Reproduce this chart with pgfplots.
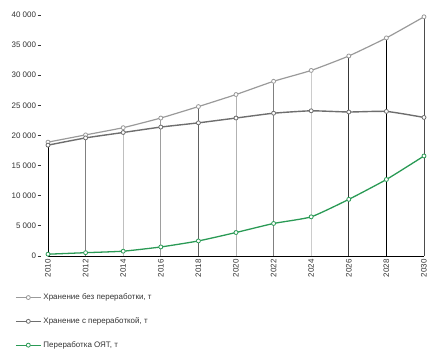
\documentclass[border=0pt]{standalone}
\usepackage{pgfplots}
\pgfplotsset{compat=1.18}
\usepackage{fontspec}
\setmainfont{Liberation Sans}
\definecolor{upc}{HTML}{9A9A9A}
\definecolor{loc}{HTML}{6E6E6E}
\definecolor{grc}{HTML}{2A9A55}
\definecolor{txt}{HTML}{333333}
\begin{document}
\begin{tikzpicture}
\begin{axis}[
  at={(0,0)}, anchor=south west,
  scale only axis, width=376bp, height=241bp,
  xmin=2010, xmax=2030, ymin=0, ymax=40000,
  axis x line*=bottom, axis y line*=left,
  y axis line style={draw=none},
  x axis line style={black, line width=0.9pt},
  major tick length=0pt,
  xtick={2010,2012,...,2030},
  ytick={0,5000,...,40000},
  scaled y ticks=false,
  font=\fontsize{8}{9.6}\selectfont,
  tick label style={text=txt},
  /pgf/number format/assume math mode=true,
  /pgf/number format/1000 sep={\ },
  x tick label style={/pgf/number format/1000 sep={}, rotate=90, anchor=east, xshift=0pt},
  yticklabel={\pgfmathprintnumber{\tick}\hspace{1.5pt}\rule[2.6pt]{4pt}{0.6pt}},
  y tick label style={xshift=-3pt},
  clip=false,
  legend cell align=left,
  legend style={draw=none, fill=none, inner sep=0pt, anchor=north west,
    at={(-0.088,-0.148)}, row sep=12.5pt, font=\fontsize{8}{9.6}\selectfont, text=txt},
  legend image code/.code={\draw[mark repeat=2,mark phase=2,#1] plot coordinates {(0bp,0bp)(12.5bp,0bp)(25bp,0bp)};},
]
% drop lines
\addplot[forget plot, black, line width=0.7pt] coordinates {(2010,0)(2010,18900)};
\addplot[forget plot, color=black!50, line width=0.7pt] coordinates {(2012,0)(2012,20100)};
\addplot[forget plot, color=black!25, line width=0.7pt] coordinates {(2014,0)(2014,21300)};
\addplot[forget plot, color=black!38, line width=0.7pt] coordinates {(2016,0)(2016,22900)};
\addplot[forget plot, color=black!62, line width=0.7pt] coordinates {(2018,0)(2018,24800)};
\addplot[forget plot, color=black!30, line width=0.7pt] coordinates {(2020,0)(2020,26800)};
\addplot[forget plot, color=black!50, line width=0.7pt] coordinates {(2022,0)(2022,29000)};
\addplot[forget plot, color=black!20, line width=0.7pt] coordinates {(2024,0)(2024,30800)};
\addplot[forget plot, color=black!78, line width=0.7pt] coordinates {(2026,0)(2026,33200)};
\addplot[forget plot, color=black, line width=0.7pt] coordinates {(2028,0)(2028,36200)};
\addplot[forget plot, color=black!70, line width=0.7pt] coordinates {(2030,0)(2030,39700)};
% series
\addplot[upc, line width=1.2pt, smooth, tension=0.3, mark=*, mark size=2pt,
  mark options={fill=white, draw=upc, line width=0.8pt}]
  coordinates {(2010,18900)(2012,20100)(2014,21300)(2016,22900)(2018,24800)(2020,26800)(2022,29000)(2024,30800)(2026,33200)(2028,36200)(2030,39700)};
\addlegendentry{Хранение без переработки, т}
\addplot[loc, line width=1.4pt, smooth, tension=0.3, mark=*, mark size=2pt,
  mark options={fill=white, draw=loc, line width=0.8pt}]
  coordinates {(2010,18400)(2012,19600)(2014,20500)(2016,21400)(2018,22100)(2020,22900)(2022,23700)(2024,24100)(2026,23900)(2028,24000)(2030,23000)};
\addlegendentry{Хранение с переработкой, т}
\addplot[grc, line width=1.3pt, smooth, tension=0.3, mark=*, mark size=2pt,
  mark options={fill=white, draw=grc, line width=0.8pt}]
  coordinates {(2010,300)(2012,550)(2014,800)(2016,1500)(2018,2500)(2020,3900)(2022,5400)(2024,6500)(2026,9400)(2028,12700)(2030,16600)};
\addlegendentry{Переработка ОЯТ, т}
\end{axis}
\pgfresetboundingbox
\path (-48bp,-98bp) rectangle (390bp,256bp);
\end{tikzpicture}
\end{document}
